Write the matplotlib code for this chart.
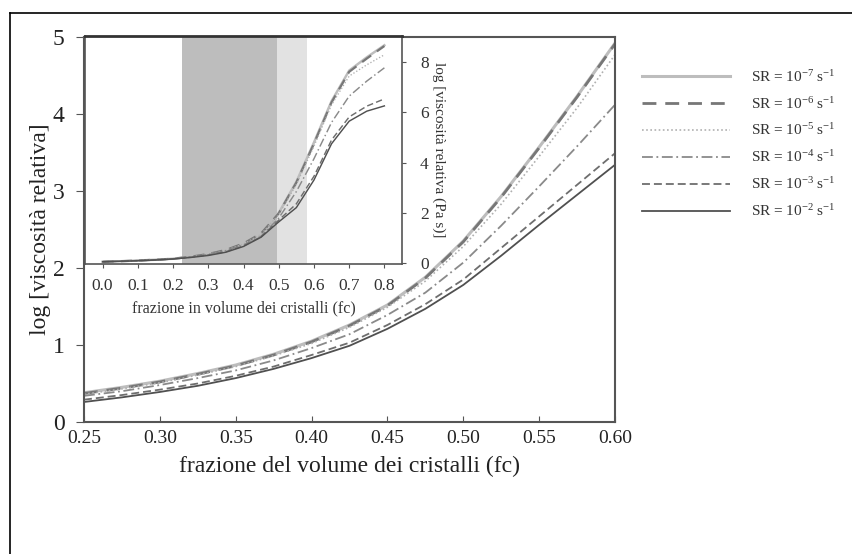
import matplotlib
matplotlib.use("Agg")
import matplotlib.pyplot as plt
from matplotlib.lines import Line2D

plt.rcParams['font.family'] = ['Liberation Serif', 'DejaVu Serif']
plt.rcParams['mathtext.fontset'] = 'custom'
plt.rcParams['mathtext.rm'] = 'Liberation Serif'
plt.rcParams['mathtext.default'] = 'regular'

# main chart data (fc 0.25 - 0.60)
fc_main = [0.25, 0.275, 0.30, 0.325, 0.35, 0.375, 0.40, 0.425, 0.45,
           0.475, 0.50, 0.525, 0.55, 0.575, 0.60]
main_sr7 = [0.38, 0.45, 0.53, 0.63, 0.74, 0.88, 1.05, 1.26, 1.52, 1.88, 2.35, 2.93, 3.57, 4.23, 4.92]
main_sr6 = [0.37, 0.44, 0.52, 0.62, 0.73, 0.87, 1.04, 1.25, 1.51, 1.87, 2.34, 2.92, 3.56, 4.22, 4.91]
main_sr5 = [0.36, 0.43, 0.51, 0.61, 0.72, 0.86, 1.02, 1.23, 1.49, 1.83, 2.28, 2.83, 3.45, 4.08, 4.77]
main_sr4 = [0.34, 0.40, 0.48, 0.57, 0.67, 0.80, 0.96, 1.14, 1.39, 1.68, 2.07, 2.55, 3.06, 3.58, 4.12]
main_sr3 = [0.29, 0.35, 0.42, 0.50, 0.60, 0.72, 0.87, 1.03, 1.26, 1.53, 1.85, 2.26, 2.67, 3.08, 3.49]
main_sr2 = [0.26, 0.32, 0.39, 0.47, 0.57, 0.69, 0.83, 0.99, 1.21, 1.47, 1.78, 2.16, 2.56, 2.95, 3.34]

# inset data (fc 0.0 - 0.8)
fc_inset = [0.0, 0.05, 0.10, 0.15, 0.20, 0.25, 0.30, 0.35, 0.40, 0.45,
            0.50, 0.55, 0.60, 0.65, 0.70, 0.75, 0.80]
ins_sr7 = [0.04, 0.06, 0.09, 0.12, 0.16, 0.24, 0.35, 0.52, 0.78, 1.18, 1.99, 3.23, 4.80, 6.45, 7.67, 8.20, 8.68]
ins_sr6 = [0.04, 0.06, 0.09, 0.12, 0.16, 0.24, 0.35, 0.51, 0.77, 1.17, 1.97, 3.20, 4.75, 6.40, 7.62, 8.15, 8.65]
ins_sr5 = [0.04, 0.06, 0.09, 0.12, 0.16, 0.23, 0.34, 0.50, 0.75, 1.14, 1.92, 3.12, 4.65, 6.30, 7.45, 7.90, 8.30]
ins_sr4 = [0.04, 0.06, 0.09, 0.12, 0.16, 0.23, 0.33, 0.48, 0.71, 1.06, 1.78, 2.84, 4.15, 5.60, 6.65, 7.25, 7.78]
ins_sr3 = [0.04, 0.06, 0.08, 0.11, 0.15, 0.22, 0.31, 0.44, 0.67, 1.04, 1.70, 2.35, 3.45, 4.90, 5.82, 6.25, 6.54]
ins_sr2 = [0.04, 0.06, 0.08, 0.11, 0.15, 0.21, 0.29, 0.42, 0.65, 1.02, 1.63, 2.20, 3.30, 4.75, 5.65, 6.05, 6.26]

labels = ['SR = 10$^{-7}$ s$^{-1}$', 'SR = 10$^{-6}$ s$^{-1}$', 'SR = 10$^{-5}$ s$^{-1}$',
          'SR = 10$^{-4}$ s$^{-1}$', 'SR = 10$^{-3}$ s$^{-1}$', 'SR = 10$^{-2}$ s$^{-1}$']

# line styles for each strain rate
styles = [
    dict(color='#bdbdbd', lw=2.2, ls='-'),
    dict(color='#777777', lw=2.0, ls=(0, (5, 3.2))),
    dict(color='#b0b0b0', lw=1.2, ls=(0, (1, 1.5))),
    dict(color='#8a8a8a', lw=1.3, ls=(0, (6, 2, 1, 2))),
    dict(color='#6e6e6e', lw=1.3, ls=(0, (4.4, 2.2))),
    dict(color='#505050', lw=1.3, ls='-'),
]

main_series = [main_sr7, main_sr6, main_sr5, main_sr4, main_sr3, main_sr2]
inset_series = [ins_sr7, ins_sr6, ins_sr5, ins_sr4, ins_sr3, ins_sr2]

fig = plt.figure(figsize=(8.53, 5.54), dpi=100)

# outer frame
fig.add_artist(Line2D([10/853, 10/853], [0, 1 - 13/554], color='black', lw=1.2))
fig.add_artist(Line2D([10/853, 1], [1 - 13/554, 1 - 13/554], color='black', lw=1.2))

spine_col = '#555555'
txt_col = '#222222'
ax = fig.add_axes([84/853, 1 - 422/554, 531/853, 385/554])
handles = []
for ys, st in zip(main_series, styles):
    h, = ax.plot(fc_main, ys, color=st['color'], lw=st['lw'], linestyle=st['ls'])
    handles.append(h)
ax.set_xlim(0.25, 0.60)
ax.set_ylim(0, 5)
ax.set_xticks([0.25, 0.30, 0.35, 0.40, 0.45, 0.50, 0.55, 0.60])
ax.set_xticklabels(['0.25', '0.30', '0.35', '0.40', '0.45', '0.50', '0.55', '0.60'])
ax.set_yticks([0, 1, 2, 3, 4, 5])
ax.tick_params(axis='x', direction='in', length=4, color=spine_col, labelsize=14, pad=6, labelcolor=txt_col)
ax.tick_params(axis='y', direction='out', length=6, color=spine_col, labelsize=17, pad=8, labelcolor=txt_col)
for s in ax.spines.values():
    s.set_color(spine_col)
    s.set_linewidth(1.5)
ax.set_xlabel('frazione del volume dei cristalli (fc)', fontsize=17, color=txt_col, labelpad=6)
ax.set_ylabel('log [viscosità relativa]', fontsize=17, color=txt_col, labelpad=1)

# inset
ins = fig.add_axes([85/853, 1 - 264/554, 317/853, 228/554])
ins.axvspan(0.225, 0.495, color='#bdbdbd', lw=0)
ins.axvspan(0.495, 0.58, color='#e2e2e2', lw=0)
for ys, st in zip(inset_series, styles):
    ins.plot(fc_inset, ys, color=st['color'], lw=st['lw'] * 0.8, linestyle=st['ls'])
ins.set_xlim(-0.05, 0.85)
ins.set_ylim(-0.05, 9.05)
ins.set_xticks([0.0, 0.1, 0.2, 0.3, 0.4, 0.5, 0.6, 0.7, 0.8])
ins.set_xticklabels(['0.0', '0.1', '0.2', '0.3', '0.4', '0.5', '0.6', '0.7', '0.8'])
ins.set_yticks([0, 2, 4, 6, 8])
ins.yaxis.tick_right()
ins.yaxis.set_label_position('right')
ins.tick_params(axis='x', direction='out', length=3, color=spine_col, labelsize=12.5, pad=7, labelcolor='#333333')
ins.tick_params(axis='y', direction='out', length=3, color=spine_col, labelsize=12.5, pad=10, labelcolor='#333333')
for s in ins.spines.values():
    s.set_color(spine_col)
    s.set_linewidth(1.2)
ins.spines['top'].set_color('#333333')
ins.spines['top'].set_linewidth(2.0)
ins.set_xlabel('frazione in volume dei cristalli (fc)', fontsize=11.5, color='#333333', labelpad=5)
ins.set_ylabel('log [viscosità relativa (Pa s)]', fontsize=11, color='#333333', rotation=-90, labelpad=12)

fig.legend(handles, labels, loc='upper left', bbox_to_anchor=(628/853, 1 - 55/554),
           frameon=False, fontsize=11, handlelength=5.75, labelspacing=0.72, handletextpad=1.4,
           labelcolor='#333333')

fig.savefig('out.png', dpi=100)
